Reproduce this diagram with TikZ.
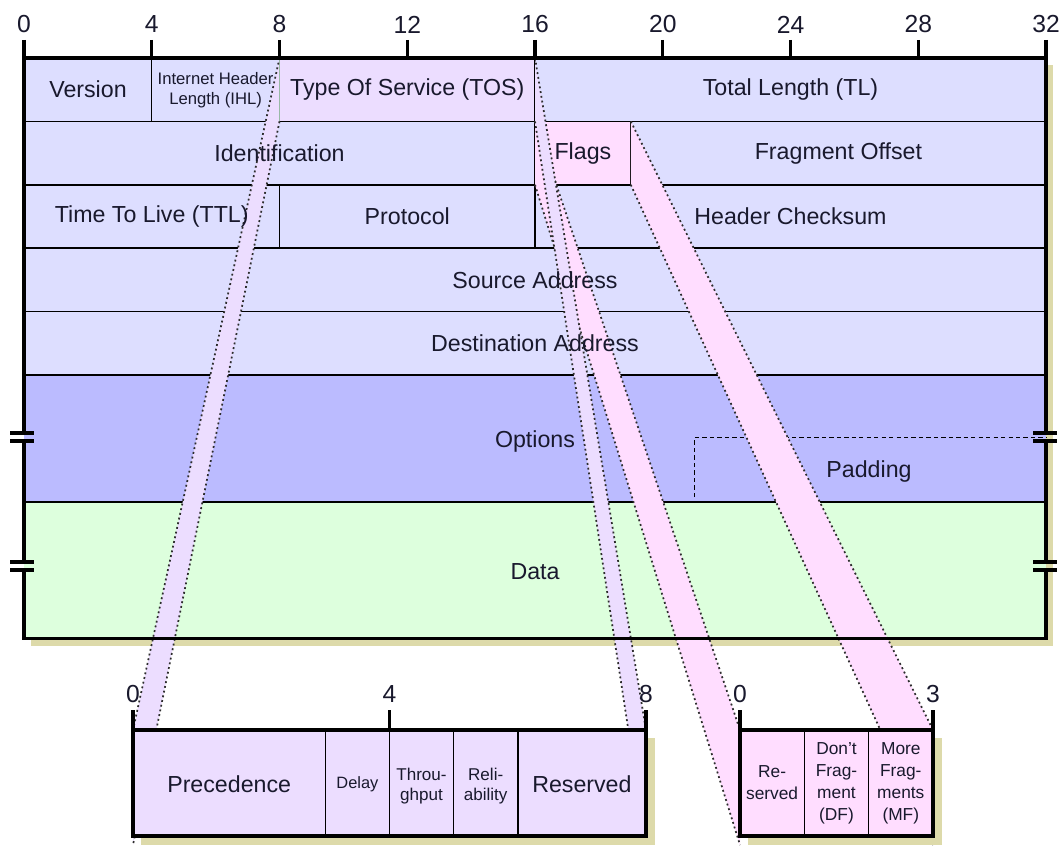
\documentclass[tikz,border=0pt]{standalone}
\usepackage{fontspec}
\setmainfont{Liberation Sans}
\definecolor{hdrc}{RGB}{221,222,255}
\definecolor{optc}{RGB}{187,187,255}
\definecolor{datc}{RGB}{221,255,221}
\definecolor{tosc}{RGB}{236,221,255}
\definecolor{flgc}{RGB}{255,221,255}
\definecolor{shdc}{RGB}{221,218,170}
\definecolor{txt}{RGB}{25,25,45}
\definecolor{dotc}{RGB}{45,45,45}
\definecolor{grn}{RGB}{0,120,0}
\tikzset{
  gridline/.style={line width=1.1pt, black},
  frameline/.style={line width=2.3pt, black},
  bandline/.style={draw=dotc, line width=1.3pt, dash pattern=on 1.4pt off 2.2pt},
  lbl/.style={font=\fontsize{17.4}{19}\selectfont, text=txt, inner sep=0pt, align=center},
  num/.style={font=\fontsize{18.5}{20}\selectfont, text=txt, inner sep=0pt},
  small/.style={font=\fontsize{12.5}{15}\selectfont, text=txt, inner sep=0pt, align=center},
  tiny/.style={font=\fontsize{12.3}{14}\selectfont, text=txt, inner sep=0pt, align=center},
  mid/.style={font=\fontsize{12.8}{15.5}\selectfont, text=txt, inner sep=0pt, align=center},
  flg/.style={font=\fontsize{13}{16.5}\selectfont, text=txt, inner sep=0pt, align=center},
}
\begin{document}
\begin{tikzpicture}[x=0.75pt,y=-0.75pt]
\fill[white] (0,0) rectangle (1059,852);
\useasboundingbox (0,0) rectangle (1059,852);

% ---- key coordinates ----
\coordinate (tosNW) at (279.5,58);
\coordinate (tosSW) at (279.5,121.4);
\coordinate (tosNE) at (535,58);
\coordinate (tosSE) at (535,121.4);
\coordinate (flNW) at (535,121.4);
\coordinate (flSW) at (535,184.8);
\coordinate (flNE) at (630.8,121.4);
\coordinate (flSE) at (630.8,184.8);
\coordinate (btNW) at (133,730);
\coordinate (btSW) at (133,845);
\coordinate (btNE) at (646,730);
\coordinate (btSE) at (646,845);
\coordinate (bfNW) at (740,730);
\coordinate (bfSW) at (740,845);
\coordinate (bfNE) at (933,730);
\coordinate (bfSE) at (933,845);

% ---- main box shadow and fills ----
\fill[shdc] (31,65) rectangle (1053,646);
\fill[hdrc] (24,58) rectangle (1046,375);
\fill[tosc] (tosNW) rectangle (tosSE);
\fill[flgc] (flNW) rectangle (flSE);
\fill[optc] (24,375) rectangle (1046,502);
\fill[datc] (24,502) rectangle (1046,638.5);

% ---- grid ----
\foreach \yy in {121.4,184.8,248.2,311.6,375,502}
  \draw[gridline] (24,\yy) -- (1046,\yy);
\draw[gridline] (151.75,58) -- (151.75,121.4);
\draw[gridline,grn] (279.5,58) -- (279.5,121.4);
\draw[gridline] (535,58) -- (535,248.2);
\draw[gridline] (630.8,121.4) -- (630.8,184.8);
\draw[gridline] (279.5,184.8) -- (279.5,248.2);
\draw[line width=1.1pt, dash pattern=on 3.2pt off 2.4pt] (694.7,497) -- (694.7,437.5) -- (1046,437.5);

% ---- projection bands ----
\fill[flgc] (flNW) -- (bfNW) -- (bfSW) -- (flSW) -- cycle;
\fill[flgc] (flNE) -- (bfNE) -- (bfSE) -- (flSE) -- cycle;
\draw[bandline] (flNW) -- (bfNW);
\draw[bandline] (flSW) -- (bfSW);
\draw[bandline] (flNE) -- (bfNE);
\draw[bandline] (flSE) -- (bfSE);
\fill[tosc] (tosNW) -- (btNW) -- (btSW) -- (tosSW) -- cycle;
\fill[tosc] (tosNE) -- (btNE) -- (btSE) -- (tosSE) -- cycle;
\draw[bandline] (tosNW) -- (btNW);
\draw[bandline] (tosSW) -- (btSW);
\draw[bandline] (tosNE) -- (btNE);
\draw[bandline] (tosSE) -- (btSE);

% ---- frame of main box ----
\draw[frameline] (22.85,58) -- (1047.15,58);
\foreach \b in {0,...,8}
  \draw[frameline] ({24+127.75*\b},40) -- ({24+127.75*\b},58);
\draw[frameline] (24,58) -- (24,433);
\draw[frameline] (24,441) -- (24,562);
\draw[frameline,line join=miter] (24,570) -- (24,638.5) -- (1046,638.5) -- (1046,570);
\draw[frameline] (1046,562) -- (1046,441);
\draw[frameline] (1046,433) -- (1046,58);
\foreach \yy in {433,441,562,570}{
  \draw[frameline] (10,\yy) -- (34,\yy);
  \draw[frameline] (1033,\yy) -- (1057,\yy);
}

% ---- top ruler numbers ----
\foreach \b/\t in {0/0,1/4,2/8,3/12,4/16,5/20,6/24,7/28,8/32}
  \node[num] (r\t) at ({24+127.75*\b},24.5) {\t};

% ---- bottom TOS box ----
\fill[shdc] (141,738) rectangle (655,845);
\fill[tosc] (btNW) rectangle (646,836);
\foreach \xx in {325.4,389.5,453.6,517.8}
  \draw[gridline] (\xx,730) -- (\xx,836);
\draw[frameline,line join=miter] (btNW) rectangle (646,836);
\foreach \xx in {133,389.5,646}
  \draw[frameline] (\xx,710) -- (\xx,730);
\node[num] (bt0) at (133,694) {0};
\node[num] (bt4) at (389.5,694) {4};
\node[num] (bt8) at (646,694) {8};

% ---- bottom Flags box ----
\fill[shdc] (748,738) rectangle (942,845);
\fill[flgc] (bfNW) rectangle (933,836);
\foreach \xx in {804.3,868.7}
  \draw[gridline] (\xx,730) -- (\xx,836);
\draw[frameline,line join=miter] (bfNW) rectangle (933,836);
\foreach \xx in {740,933}
  \draw[frameline] (\xx,710) -- (\xx,730);
\node[num] (bf0) at (740,694) {0};
\node[num] (bf3) at (933,694) {3};

% ---- texts ----
\node[lbl] (version) at (88,89.7) {Version};
\node[small] (ihl) at (215.6,89.7) {Internet Header\\Length (IHL)};
\node[lbl] (tos) at (407.25,89.7) {Type Of Service (TOS)};
\node[lbl] (tl) at (790.5,89.7) {Total Length (TL)};
\node[lbl] (ident) at (279.5,153.1) {Identification};
\node[lbl] (flags) at (582.9,153.1) {Flags};
\node[lbl] (fragoff) at (838.4,153.1) {Fragment Offset};
\node[lbl] (ttl) at (151.75,216.5) {Time To Live (TTL)};
\node[lbl] (proto) at (407.25,216.5) {Protocol};
\node[lbl] (cksum) at (790.5,216.5) {Header Checksum};
\node[lbl] (src) at (535,279.9) {Source Address};
\node[lbl] (dst) at (535,343.3) {Destination Address};
\node[lbl] (opts) at (535,441) {Options};
\node[lbl] (pad) at (869,471) {Padding};
\node[lbl] (data) at (535,572) {Data};

\node[lbl] (prec) at (229.2,784) {Precedence};
\node[tiny] (delay) at (357.4,784) {Delay};
\node[mid] (thr) at (421.5,786) {Throu-\\ghput};
\node[mid] (rel) at (485.7,786) {Reli-\\ability};
\node[lbl] (res) at (581.9,784) {Reserved};

\node[flg] (fres) at (772.1,783) {Re-\\served};
\node[flg] (fdf) at (836.5,783) {Don't\\Frag-\\ment\\(DF)};
\node[flg] (fmf) at (900.8,783) {More\\Frag-\\ments\\(MF)};
\end{tikzpicture}
\end{document}
